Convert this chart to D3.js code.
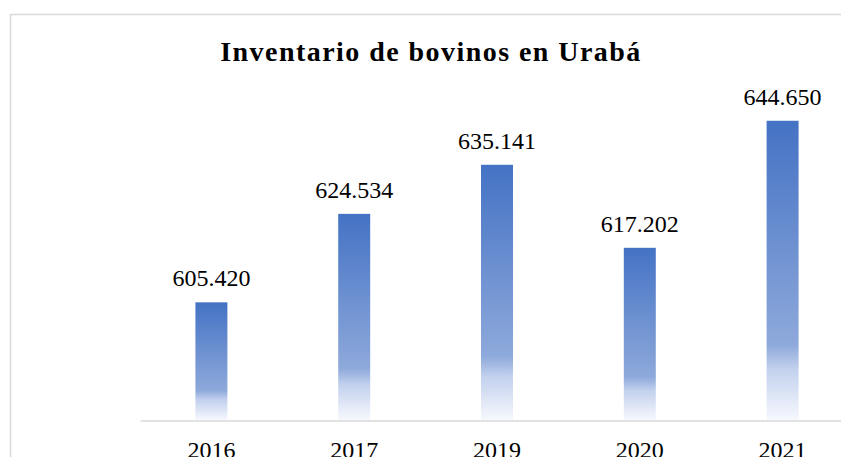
<!DOCTYPE html>
<html lang="es">
	<head>
		<meta charset="utf-8">
		<title>Inventario de bovinos en Urabá</title>
		<script src="https://cdn.jsdelivr.net/npm/d3@7"></script>
		<style>
		body{
			margin: 0;
			background-color: #ffffff;
		}
		svg{
			display: block;
		}
		svg text{
			font-family: "Liberation Serif", "Times New Roman", serif;
		}
		</style>
	</head>
	<body>
		<div id="chart"></div>
		<script>

			// data
			var years = ["2016", "2017", "2019", "2020", "2021"];
			var bovinos = [605420, 624534, 635141, 617202, 644650];
			var yDomain = [580000, 650000];

			var w = 841;
			var h = 457;
			var serif = "'Liberation Serif', 'Times New Roman', serif";

			var svg = d3.select("#chart")
						.append("svg")
						.attr("width", w)
						.attr("height", h);

			// gradient like the office "light gradient" fill
			var grad = svg.append("defs")
				.append("linearGradient")
				.attr("id", "barGrad")
				.attr("x1", 0).attr("y1", 0)
				.attr("x2", 0).attr("y2", 1);
			grad.append("stop").attr("offset", "0%").attr("stop-color", "#4472C4");
			grad.append("stop").attr("offset", "75%").attr("stop-color", "#8EA9DB");
			grad.append("stop").attr("offset", "83%").attr("stop-color", "#C3D1EE");
			grad.append("stop").attr("offset", "100%").attr("stop-color", "#F6F8FD");

			// chart border (runs off the right and bottom)
			svg.append("rect")
				.attr("x", 10.5)
				.attr("y", 14.5)
				.attr("width", 900)
				.attr("height", 500)
				.attr("fill", "none")
				.attr("stroke", "#D9D9D9")
				.attr("stroke-width", 1.5);

			// title
			svg.append("text")
				.attr("x", 431)
				.attr("y", 61)
				.attr("text-anchor", "middle")
				.attr("font-family", serif)
				.attr("font-size", "28px")
				.attr("font-weight", "bold")
				.attr("letter-spacing", "1.45px")
				.attr("fill", "#000")
				.text("Inventario de bovinos en Urabá");

			var x = d3.scaleBand()
				.domain(years)
				.range([140, 854])
				.paddingInner(0.776)
				.paddingOuter(0.388);

			var y = d3.scaleLinear()
				.domain(yDomain)
				.range([420, 96]);

			// bars
			svg.selectAll("rect.bar")
			   .data(bovinos)
			   .enter()
			   .append("rect")
			   .attr("class", "bar")
			   .attr("x", function(d, i) { return x(years[i]); })
			   .attr("y", function(d) { return y(d); })
			   .attr("width", x.bandwidth())
			   .attr("height", function(d) { return y(yDomain[0]) - y(d); })
			   .attr("fill", "url(#barGrad)");

			// x axis line and year labels
			var xAxis = svg.append("g")
				.attr("transform", "translate(0," + 420.5 + ")")
				.call(d3.axisBottom(x).tickSize(0).tickPadding(0));
			xAxis.select(".domain")
				.attr("stroke", "#D9D9D9")
				.attr("stroke-width", 1.5);
			xAxis.selectAll("text")
				.attr("y", 37.5)
				.attr("dy", 0)
				.attr("font-size", "24px")
				.attr("font-family", serif)
				.attr("fill", "#000");

			// value labels
			var fmt = d3.formatLocale({decimal: ",", thousands: ".", grouping: [3], currency: ["$", ""]}).format(",d");
			svg.selectAll("text.val")
			   .data(bovinos)
			   .enter()
			   .append("text")
			   .attr("class", "val")
			   .text(function(d) { return fmt(d); })
			   .attr("x", function(d, i) { return x(years[i]) + x.bandwidth() / 2; })
			   .attr("y", function(d) { return y(d) - 16; })
			   .attr("text-anchor", "middle")
			   .attr("font-family", serif)
			   .attr("font-size", "24px")
			   .attr("fill", "#000");

		</script>
	</body>
</html>
